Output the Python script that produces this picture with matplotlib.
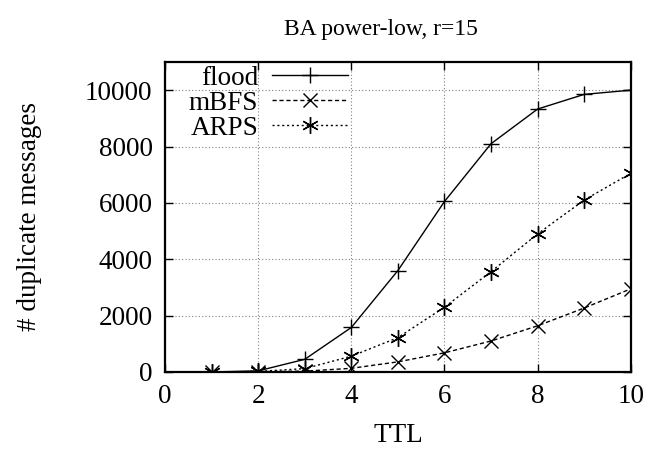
import matplotlib
matplotlib.use("Agg")
import matplotlib.pyplot as plt

plt.rcParams['font.family'] = ['Liberation Serif', 'DejaVu Serif']

ttl = [1, 2, 3, 4, 5, 6, 7, 8, 9, 10]
flood = [0, 40, 450, 1580, 3600, 6050, 8100, 9330, 9850, 10000]
mbfs = [0, 10, 30, 130, 360, 680, 1100, 1640, 2270, 2950]
arps = [0, 20, 120, 560, 1220, 2300, 3560, 4900, 6100, 7050]

fig = plt.figure(figsize=(6.55, 4.49), dpi=100)
ax = fig.add_axes([0.252, 0.1715, 0.711, 0.6905])

ax.plot(ttl, flood, color='black', lw=1, ls='-', marker='+', ms=12, mew=1, label='flood')
ax.plot(ttl, mbfs, color='black', lw=1, ls=(0, (3, 2)), marker='x', ms=10, mew=1, label='mBFS')
ax.plot(ttl, arps, color='black', lw=1, ls=(0, (1.5, 2)), marker=(6, 2, 0), ms=12, mew=1, label='ARPS')

ax.set_xlim(0, 10)
ax.set_ylim(0, 11000)
ax.set_xticks([0, 2, 4, 6, 8, 10])
ax.set_yticks([0, 2000, 4000, 6000, 8000, 10000])
ax.grid(True, color='gray', ls=(0, (1, 2)), lw=0.8)
ax.tick_params(direction='in', top=True, right=True, length=6, width=1, labelsize=19.5, pad=9)
for s in ax.spines.values():
    s.set_linewidth(1.6)

ax.set_xlabel('TTL', fontsize=19.5, labelpad=10)
ax.set_ylabel('# duplicate messages', fontsize=19.5, labelpad=31)
fig.text(0.582, 1 - 30 / 449, 'BA power-low, r=15', fontsize=17, ha='center', va='center')

ax.legend(loc='upper left', frameon=False, markerfirst=False, fontsize=19.5,
          handlelength=2.8, labelspacing=0.0, borderaxespad=0.1, handletextpad=0.5,
          bbox_to_anchor=(0.022, 1.032))

fig.savefig('out.png', dpi=100)
